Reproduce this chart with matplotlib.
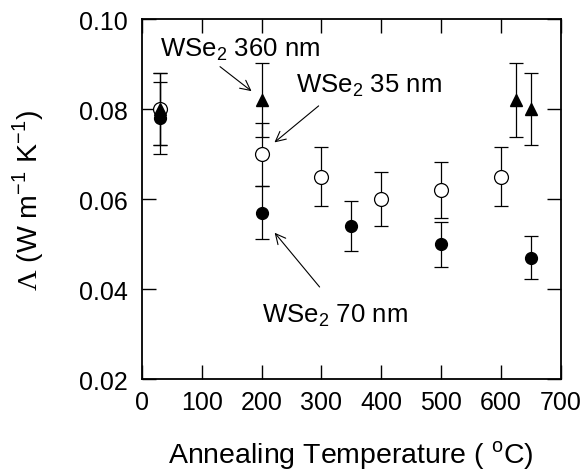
import numpy as np
import matplotlib
matplotlib.use("Agg")
import matplotlib.pyplot as plt

plt.rcParams['font.family'] = ['Liberation Sans', 'DejaVu Sans']
plt.rcParams['mathtext.fontset'] = 'custom'
plt.rcParams['mathtext.rm'] = 'Liberation Serif'
plt.rcParams['mathtext.sf'] = 'Liberation Sans'

# WSe2 70 nm (filled circles)
t_70 = [30, 200, 350, 500, 650]
k_70 = [0.078, 0.057, 0.054, 0.050, 0.047]
e_70 = [0.008, 0.0058, 0.0055, 0.005, 0.0047]

# WSe2 35 nm (open circles)
t_35 = [30, 200, 300, 400, 500, 600]
k_35 = [0.080, 0.070, 0.065, 0.060, 0.062, 0.065]
e_35 = [0.008, 0.007, 0.0066, 0.006, 0.0063, 0.0066]

# WSe2 360 nm (filled triangles)
t_360 = [30, 200, 625, 650]
k_360 = [0.080, 0.082, 0.082, 0.080]
e_360 = [0.008, 0.0083, 0.0082, 0.008]

fig = plt.figure(figsize=(5.86, 4.77), dpi=100)
ax = fig.add_axes([0.242, 0.203, 0.715, 0.755])

eb = dict(ecolor='black', elinewidth=0.9, capsize=5, capthick=0.9, linestyle='none')
ax.errorbar(t_35, k_35, yerr=e_35, marker='o', ms=10, mfc='white', mec='black', mew=0.9, **eb)
ax.errorbar(t_70, k_70, yerr=e_70, marker='o', ms=8.5, mfc='black', mec='black', **eb)
ax.errorbar(t_360, k_360, yerr=e_360, marker='^', ms=9, mfc='black', mec='black', **eb)

ax.set_xlim(0, 700)
ax.set_ylim(0.02, 0.10)
ax.set_xticks(np.arange(0, 701, 100))
ax.set_yticks(np.arange(0.02, 0.1001, 0.02))
ax.set_yticklabels(['0.02', '0.04', '0.06', '0.08', '0.10'])
ax.tick_params(direction='in', length=10, width=1, top=True, right=True, labelsize=18)
ax.tick_params(axis='x', pad=8)
ax.tick_params(axis='y', pad=10)
for s in ax.spines.values():
    s.set_linewidth(1.3)

ax.set_xlabel(r'Annealing Temperature ( $^{\mathsf{o}}$C)', fontsize=20.5, labelpad=17)
ax.set_ylabel(r'$\mathrm{\Lambda}$ (W m$^{\mathsf{-1}}$ K$^{\mathsf{-1}}$)', fontsize=20.5, labelpad=24)

arrow = dict(arrowstyle='->', color='black', lw=0.8, mutation_scale=18)
ax.annotate('', xy=(187, 0.0836), xytext=(127, 0.0898), arrowprops=arrow)
ax.annotate('', xy=(218, 0.0722), xytext=(299, 0.0811), arrowprops=arrow)
ax.annotate('', xy=(219, 0.0530), xytext=(300, 0.0400), arrowprops=arrow)

ax.text(30, 0.092, r'WSe$_{\mathsf{2}}$ 360 nm', fontsize=18.5, va='baseline')
ax.text(257, 0.0838, r'WSe$_{\mathsf{2}}$ 35 nm', fontsize=18.5, va='baseline')
ax.text(200, 0.0327, r'WSe$_{\mathsf{2}}$ 70 nm', fontsize=18.5, va='baseline')

fig.savefig('out.png', dpi=100)
